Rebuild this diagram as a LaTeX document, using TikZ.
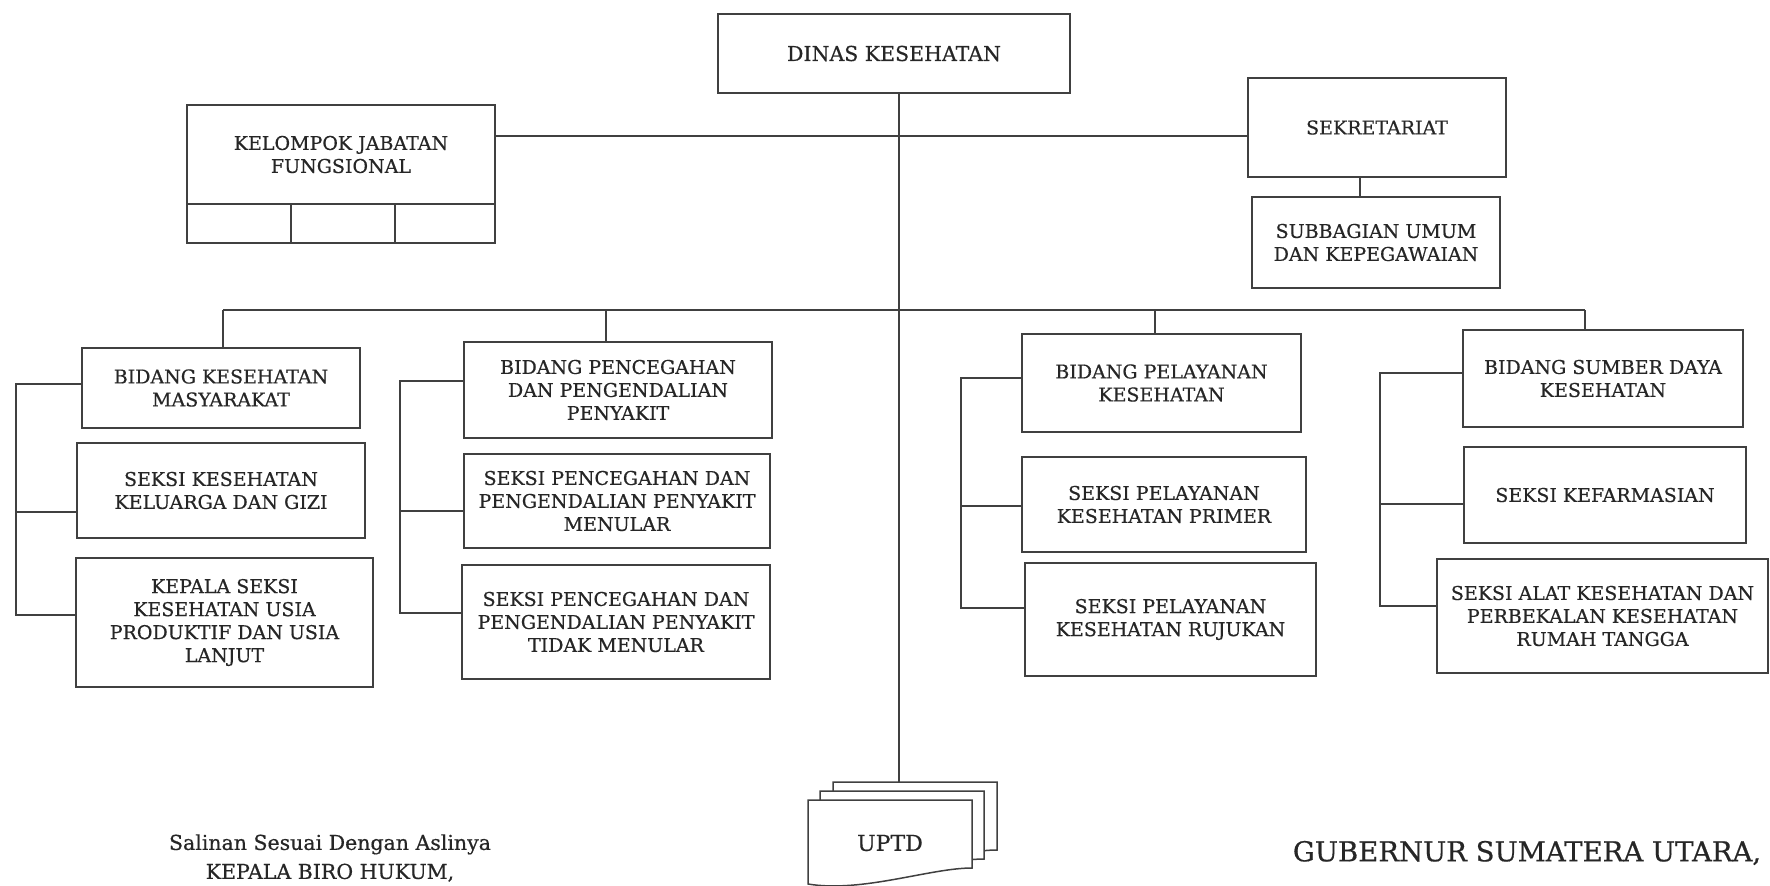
\documentclass[tikz,border=0pt]{standalone}
\usepackage{fontspec}
\setmainfont[FakeBold=0.6]{DejaVu Serif}

% box given by its left, top, right and bottom edges (y grows downwards)
\newcommand\orgbox[6]{%
  \node[unit, minimum width={(#4)-(#2)}, minimum height={(#5)-(#3)}]
    (#1) at ({((#2)+(#4))/2},{((#3)+(#5))/2}) {#6};}

% one sheet of the stacked document symbol, shifted by (#1,#2)
\newcommand\docsheet[2]{%
  \draw[link, fill=white, shift={(#1,#2)}]
    (808,800) -- (972,800) -- (972,868)
    .. controls (930,868) and (862,893) .. (808,884) -- cycle;}

\begin{document}
\begin{tikzpicture}[x=1pt, y=-1pt,
  unit/.style={draw=black!75, line width=1.5pt, align=center, inner sep=0pt,
               font=\fontsize{19}{23}\selectfont, text=black!85},
  link/.style={draw=black!75, line width=1.5pt},
  sign/.style={align=center, inner sep=0pt, text=black!85}]

\useasboundingbox (0,0) rectangle (1770,886);

% top level
\orgbox{dinas}{718}{14}{1070}{93}{\fontsize{20.5}{24}\selectfont DINAS KESEHATAN}
\orgbox{kjf}{187}{105}{495}{204}{KELOMPOK JABATAN\\FUNGSIONAL}
\orgbox{kjfa}{187}{204}{291}{243}{}
\orgbox{kjfb}{291}{204}{395}{243}{}
\orgbox{kjfc}{395}{204}{495}{243}{}
\orgbox{sek}{1248}{78}{1506}{177}{SEKRETARIAT}
\orgbox{sub}{1252}{197}{1500}{288}{SUBBAGIAN UMUM\\DAN KEPEGAWAIAN}

% column 1
\orgbox{bkm}{82}{348}{360}{428}{BIDANG KESEHATAN\\MASYARAKAT}
\orgbox{skg}{77}{443}{365}{538}{SEKSI KESEHATAN\\KELUARGA DAN GIZI}
\orgbox{sku}{76}{558}{373}{687}{KEPALA SEKSI\\KESEHATAN USIA\\PRODUKTIF DAN USIA\\LANJUT}

% column 2
\orgbox{bpp}{464}{342}{772}{438}{BIDANG PENCEGAHAN\\DAN PENGENDALIAN\\PENYAKIT}
\orgbox{spm}{464}{454}{770}{548}{SEKSI PENCEGAHAN DAN\\PENGENDALIAN PENYAKIT\\MENULAR}
\orgbox{sptm}{462}{565}{770}{679}{SEKSI PENCEGAHAN DAN\\PENGENDALIAN PENYAKIT\\TIDAK MENULAR}

% column 3
\orgbox{bpk}{1022}{334}{1301}{432}{BIDANG PELAYANAN\\KESEHATAN}
\orgbox{spr}{1022}{457}{1306}{552}{SEKSI PELAYANAN\\KESEHATAN PRIMER}
\orgbox{sru}{1025}{563}{1316}{676}{SEKSI PELAYANAN\\KESEHATAN RUJUKAN}

% column 4
\orgbox{bsd}{1463}{330}{1743}{427}{BIDANG SUMBER DAYA\\KESEHATAN}
\orgbox{skf}{1464}{447}{1746}{543}{SEKSI KEFARMASIAN}
\orgbox{sak}{1437}{559}{1768}{673}{SEKSI ALAT KESEHATAN DAN\\PERBEKALAN KESEHATAN\\RUMAH TANGGA}

% main trunk down to the UPTD stack
\coordinate (uptdtop) at (899,782);
\draw[link] (dinas.south -| uptdtop) -- (uptdtop);

% staff line and secretariat
\coordinate (staff) at (899,136);
\draw[link] (kjf.east |- staff) -- (sek.west |- staff);
\path (sek.south) ++(-17,0) coordinate (sekfoot);
\draw[link] (sekfoot) -- (sekfoot |- sub.north);

% bus to the four fields
\coordinate (d1) at (223,310);
\coordinate (d2) at (606,310);
\coordinate (d3) at (1155,310);
\coordinate (d4) at (1585,310);
\draw[link] (d1) -- (d4);
\draw[link] (d1) -- (d1 |- bkm.north);
\draw[link] (d2) -- (d2 |- bpp.north);
\draw[link] (d3) -- (d3 |- bpk.north);
\draw[link] (d4) -- (d4 |- bsd.north);

% side brackets of each field
\coordinate (a1) at (16,384);   \coordinate (a2) at (16,512);   \coordinate (a3) at (16,615);
\draw[link] (bkm.west |- a1) -- (a1) -- (a3) -- (sku.west |- a3);
\draw[link] (a2) -- (skg.west |- a2);

\coordinate (b1) at (400,381);  \coordinate (b2) at (400,511);  \coordinate (b3) at (400,613);
\draw[link] (bpp.west |- b1) -- (b1) -- (b3) -- (sptm.west |- b3);
\draw[link] (b2) -- (spm.west |- b2);

\coordinate (c1) at (961,378);  \coordinate (c2) at (961,506);  \coordinate (c3) at (961,608);
\draw[link] (bpk.west |- c1) -- (c1) -- (c3) -- (sru.west |- c3);
\draw[link] (c2) -- (spr.west |- c2);

\coordinate (e1) at (1380,373); \coordinate (e2) at (1380,504); \coordinate (e3) at (1380,606);
\draw[link] (bsd.west |- e1) -- (e1) -- (e3) -- (sak.west |- e3);
\draw[link] (e2) -- (skf.west |- e2);

% UPTD stack of documents
\docsheet{25}{-18}
\docsheet{12}{-9}
\docsheet{0}{0}
\node[sign, font=\fontsize{22}{26}\selectfont] (uptd) at (890,843) {UPTD};

% signature blocks
\node[sign, font=\fontsize{20.5}{29}\selectfont] (salinan) at (330,858)
  {Salinan Sesuai Dengan Aslinya\\KEPALA BIRO HUKUM,};
\node[sign, font=\fontsize{27.5}{31}\selectfont] (gub) at (1527,853)
  {GUBERNUR SUMATERA UTARA,};
\end{tikzpicture}
\end{document}
